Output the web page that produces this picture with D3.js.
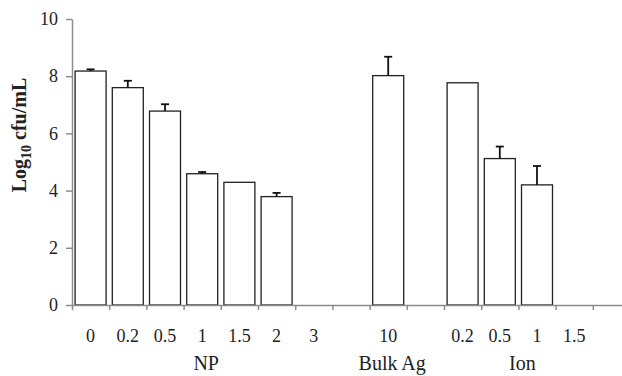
<!DOCTYPE html>
<html>
<head>
<meta charset="utf-8">
<script src="https://cdn.jsdelivr.net/npm/d3@7"></script>
<style>
  body { margin: 0; background: #fff; }
  text { font-family: "Liberation Serif", "Times New Roman", serif; fill: #222; }
</style>
</head>
<body>
<svg id="chart" width="622" height="376"></svg>
<script>
// one slot per category on the x axis, blanks are empty slots
const slotLabels = ["0", "0.2", "0.5", "1", "1.5", "2", "3", "", "10", "", "0.2", "0.5", "1", "1.5", ""];
const means = [8.18, 7.60, 6.78, 4.59, 4.29, 3.79, 0, null, 8.02, null, 7.77, 5.12, 4.20, 0, null];
const errors = [0.06, 0.24, 0.24, 0.06, 0, 0.13, 0, null, 0.66, null, 0, 0.42, 0.66, 0, null];
const groupNames = ["NP", "Bulk Ag", "Ion"];
const groupFirst = [0, 8, 10];
const groupLast = [6, 8, 13];
const yTicks = [0, 2, 4, 6, 8, 10];

const plotLeft = 72;
const plotTop = 19;
const plotBottom = 305;
const slotW = 37.2;

const svg = d3.select("#chart");

const slots = d3.range(slotLabels.length);

const xBand = d3.scaleBand()
    .domain(slots)
    .range([plotLeft, plotLeft + slotW * slots.length])
    .paddingInner(0.167)
    .paddingOuter(0.0835);

const xSlot = d3.scaleLinear()
    .domain([0, slots.length])
    .range([plotLeft, plotLeft + slotW * slots.length]);

const y = d3.scaleLinear()
    .domain([0, 10])
    .range([plotBottom, plotTop]);

// y axis
const yAxis = svg.append("g")
    .attr("transform", `translate(${plotLeft},0)`)
    .call(d3.axisLeft(y).tickValues(yTicks).tickSize(6).tickPadding(8).tickSizeOuter(0));
yAxis.select(".domain").attr("stroke", "#8c8c8c").attr("stroke-width", 1.5);
yAxis.selectAll(".tick line").attr("stroke", "#8c8c8c").attr("stroke-width", 1.5);
yAxis.selectAll(".tick text")
    .attr("font-family", "Liberation Serif")
    .attr("font-size", 18)
    .attr("fill", "#333");

// bars
const bars = slots.filter(i => means[i] !== null);

svg.append("g")
    .selectAll("rect")
    .data(bars)
    .join("rect")
    .attr("x", i => xBand(i))
    .attr("width", xBand.bandwidth())
    .attr("y", i => y(means[i]))
    .attr("height", i => y(0) - y(means[i]))
    .attr("fill", "#fff")
    .attr("stroke", "#222")
    .attr("stroke-width", 1.3);

// error bars (upper only)
const withErr = bars.filter(i => errors[i] > 0);
const errG = svg.append("g")
    .attr("stroke", "#111")
    .attr("stroke-width", 1.8);

errG.selectAll("line.stem")
    .data(withErr)
    .join("line")
    .attr("class", "stem")
    .attr("x1", i => xBand(i) + xBand.bandwidth() / 2)
    .attr("x2", i => xBand(i) + xBand.bandwidth() / 2)
    .attr("y1", i => y(means[i]))
    .attr("y2", i => y(means[i] + errors[i]));

errG.selectAll("line.cap")
    .data(withErr)
    .join("line")
    .attr("class", "cap")
    .attr("x1", i => xBand(i) + xBand.bandwidth() / 2 - 4)
    .attr("x2", i => xBand(i) + xBand.bandwidth() / 2 + 4)
    .attr("y1", i => y(means[i] + errors[i]))
    .attr("y2", i => y(means[i] + errors[i]));

// x axis with ticks at slot boundaries
const xAxis = svg.append("g")
    .attr("transform", `translate(0,${plotBottom})`)
    .call(d3.axisBottom(xSlot).tickValues(d3.range(slots.length + 1)).tickFormat("").tickSize(5).tickSizeOuter(0));
xAxis.select(".domain").attr("stroke", "#8c8c8c").attr("stroke-width", 1.5);
xAxis.selectAll(".tick line").attr("stroke", "#8c8c8c").attr("stroke-width", 1.5);

svg.append("g")
    .selectAll("text")
    .data(slots.filter(i => slotLabels[i] !== ""))
    .join("text")
    .attr("x", i => xBand(i) + xBand.bandwidth() / 2)
    .attr("y", 341.5)
    .attr("text-anchor", "middle")
    .attr("font-size", 18)
    .attr("fill", "#333")
    .text(i => slotLabels[i]);

// group labels, nudged a little right like the original
svg.append("g")
    .selectAll("text")
    .data(groupNames)
    .join("text")
    .attr("x", (d, k) => (xBand(groupFirst[k]) + xBand(groupLast[k]) + xBand.bandwidth()) / 2 + 4)
    .attr("y", 370)
    .attr("text-anchor", "middle")
    .attr("font-size", 20)
    .attr("fill", "#333")
    .text(d => d);

// y axis title
const title = svg.append("text")
    .attr("transform", "translate(26,135) rotate(-90)")
    .attr("text-anchor", "middle")
    .attr("font-size", 20)
    .attr("font-weight", "bold")
    .attr("fill", "#222");
title.append("tspan").text("Log");
title.append("tspan").attr("font-size", 14).attr("dy", 5).text("10");
title.append("tspan").attr("dy", -5).text(" cfu/mL");
</script>
</body>
</html>
